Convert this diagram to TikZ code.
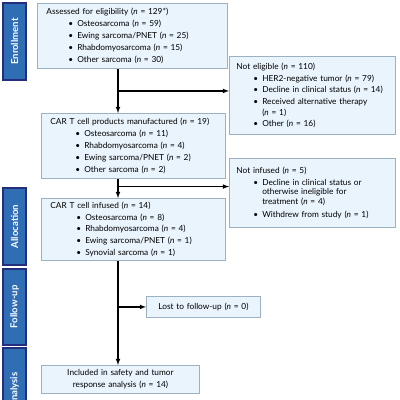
\documentclass[tikz,border=0pt]{standalone}
\usepackage{fontspec}
\setmainfont{Lato}
\usepackage{xcolor}
\usetikzlibrary{arrows, positioning, calc}

\definecolor{barblue}{HTML}{2F6DB5}
\definecolor{barnavy}{HTML}{232F7C}
\definecolor{boxfill}{HTML}{E9F4FC}
\definecolor{boxline}{HTML}{9CB2C3}

\newcommand{\bul}[2][22pt]{\hspace*{#1}\textbullet\hspace{4pt}#2}
\newcommand{\cnt}[2][22pt]{\hspace*{#1}\phantom{\textbullet}\hspace{4pt}#2}
\newcommand{\nn}{\textit{n}}

\tikzset{
  flowbox/.style={draw=boxline, fill=boxfill, line width=0.9pt, anchor=north west,
    align=left, inner xsep=9pt, inner ysep=0pt, font=\fontsize{8.3}{11.8}\selectfont},
  phasebar/.style={draw=barnavy, fill=barblue, line width=1.4pt},
  barlabel/.style={text=white, font=\fontsize{9.6}{11}\selectfont\bfseries},
  flowarrow/.style={-latex, line width=1.1pt}
}

\begin{document}
\begin{tikzpicture}[x=1pt, y=-1pt]
        \clip (0,0) rectangle (400,400);
        % phase bars
        \draw[phasebar] (3,3) rectangle (26,80) node[midway, rotate=90, barlabel] (enroll) {Enrollment};
        \draw[phasebar] (3,188) rectangle (26,265) node[midway, rotate=90, barlabel] (alloc) {Allocation};
        \draw[phasebar] (3,269) rectangle (26,345) node[midway, rotate=90, barlabel] (follow) {Follow-up};
        \draw[phasebar] (3,348) rectangle (26,432) node[midway, rotate=90, barlabel] (analysis) {Analysis};

        % boxes
        \node[flowbox, text width=172pt, minimum height=65pt] (assessed) at (37,3)
          {Assessed for eligibility (\nn{} = 129*)\\
           \bul{Osteosarcoma (\nn{} = 59)}\\
           \bul{Ewing sarcoma/PNET (\nn{} = 25)}\\
           \bul{Rhabdomyosarcoma (\nn{} = 15)}\\
           \bul{Other sarcoma (\nn{} = 30)}};
        \node[flowbox, inner xsep=7pt, text width=152pt, minimum height=78pt] (noteligible) at (229,56)
          {Not eligible (\nn{} = 110)\\
           \bul[17pt]{HER2-negative tumor (\nn{} = 79)}\\
           \bul[17pt]{Decline in clinical status (\nn{} = 14)}\\
           \bul[17pt]{Received alternative therapy}\\[-1.5pt]
           \cnt[17pt]{(\nn{} = 1)}\\
           \bul[17pt]{Other (\nn{} = 16)}};
        \node[flowbox, text width=166pt, minimum height=65pt] (manufactured) at (41,113)
          {CAR T cell products manufactured (\nn{} = 19)\\
           \bul[25pt]{Osteosarcoma (\nn{} = 11)}\\
           \bul[25pt]{Rhabdomyosarcoma (\nn{} = 4)}\\
           \bul[25pt]{Ewing sarcoma/PNET (\nn{} = 2)}\\
           \bul[25pt]{Other sarcoma (\nn{} = 2)}};
        \node[flowbox, inner xsep=7pt, text width=152pt, minimum height=69pt] (notinfused) at (229,158)
          {Not infused (\nn{} = 5)\\
           \bul[17pt]{Decline in clinical status or}\\[-2pt]
           \cnt[17pt]{otherwise ineligible for}\\[-2pt]
           \cnt[17pt]{treatment (\nn{} = 4)}\\[1pt]
           \bul[17pt]{Withdrew from study (\nn{} = 1)}};
        \node[flowbox, text width=166pt, minimum height=62pt] (infused) at (41,198)
          {CAR T cell infused (\nn{} = 14)\\
           \bul[26pt]{Osteosarcoma (\nn{} = 8)}\\
           \bul[26pt]{Rhabdomyosarcoma (\nn{} = 4)}\\
           \bul[26pt]{Ewing sarcoma/PNET (\nn{} = 1)}\\
           \bul[26pt]{Synovial sarcoma (\nn{} = 1)}};
        \node[flowbox, align=center, inner xsep=2pt, text width=110pt, minimum height=21pt] (lost) at (146,296)
          {Lost to follow-up (\nn{} = 0)};
        \node[flowbox, align=center, text width=140pt, minimum height=28pt] (included) at (41,365)
          {Included in safety and tumor\\response analysis (\nn{} = 14)};

        % connectors
        \coordinate (spine) at (118,0);
        \draw[flowarrow] (assessed.south -| spine) -- (manufactured.north -| spine);
        \coordinate (split1) at ($(assessed.south -| spine)!0.5!(manufactured.north -| spine)$);
        \draw[flowarrow] (split1) -- (split1 -| noteligible.west);
        \draw[flowarrow] (manufactured.south -| spine) -- (infused.north -| spine);
        \coordinate (split2) at ($(manufactured.south -| spine)!0.4!(infused.north -| spine)$);
        \draw[flowarrow] (split2) -- (split2 -| notinfused.west);
        \draw[flowarrow] (infused.south -| spine) -- (included.north -| spine);
        \draw[flowarrow] (spine |- lost.west) -- (lost.west);
      \end{tikzpicture}
\end{document}
